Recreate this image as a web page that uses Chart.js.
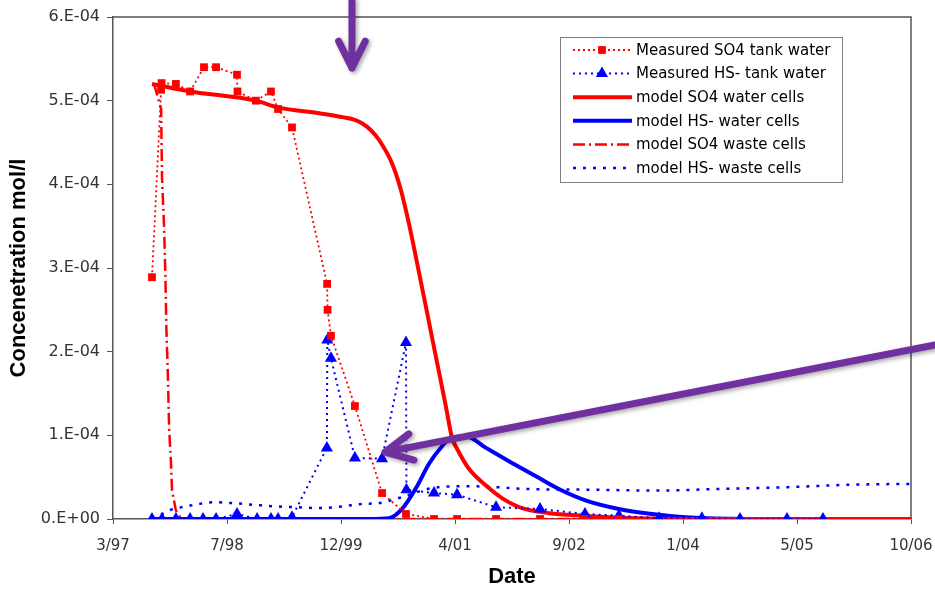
<!DOCTYPE html>
<html>
<head>
<meta charset="utf-8">
<script src="https://cdn.jsdelivr.net/npm/chart.js@4.4.1/dist/chart.umd.min.js"></script>
<style>
  html, body { margin: 0; padding: 0; background: #fff; }
  canvas { display: block; }
</style>
</head>
<body>
<canvas id="concChart" width="935" height="590"></canvas>
<script>
// x = days after 11 Mar 1997 (axis start), y = concentration in 1e-4 mol/l
const xTickLabels = ['3/97', '7/98', '12/99', '4/01', '9/02', '1/04', '5/05', '10/06'];
const yTickLabels = ['0.E+00', '1.E-04', '2.E-04', '3.E-04', '4.E-04', '5.E-04', '6.E-04'];

const so4MeasDays = [171, 211, 213, 276, 338, 399, 452, 544, 546, 627, 693, 724, 785, 939, 941, 956, 1061, 1180, 1285, 1408, 1509, 1680, 1873, 2066, 2219];
const so4MeasVals = [2.89, 5.13, 5.21, 5.2, 5.11, 5.4, 5.4, 5.31, 5.11, 5.0, 5.11, 4.9, 4.68, 2.81, 2.5, 2.19, 1.35, 0.31, 0.06, 0, 0, 0, 0, 0, 0];

const hsMeasDays = [171, 215, 276, 338, 395, 452, 544, 632, 693, 724, 785, 938, 940, 956, 1061, 1180, 1285, 1287, 1408, 1509, 1680, 1873, 2070, 2219, 2395, 2583, 2750, 2956, 3114];
const hsMeasVals = [0, 0, 0, 0, 0, 0, 0.06, 0, 0, 0, 0.02, 0.85, 2.14, 1.92, 0.73, 0.72, 2.11, 0.35, 0.31, 0.29, 0.14, 0.12, 0.06, 0.04, 0.01, 0.01, 0, 0, 0];

const so4WaterDays = [171, 338, 627, 724, 904, 1013, 1060, 1092, 1130, 1167, 1224, 1263, 1298, 1333, 1373, 1417, 1461, 1487, 1509, 1561, 1636, 1706, 1794, 1912, 2057, 2294, 2570, 3500];
const so4WaterVals = [5.2, 5.11, 5.0, 4.92, 4.85, 4.8, 4.77, 4.73, 4.65, 4.53, 4.25, 3.93, 3.53, 3.07, 2.53, 1.93, 1.33, 0.97, 0.84, 0.6, 0.4, 0.25, 0.13, 0.07, 0.04, 0.01, 0, 0];

const hsWaterDays = [171, 1123, 1211, 1268, 1329, 1386, 1443, 1482, 1548, 1636, 1750, 1855, 1969, 2075, 2219, 2364, 2513, 2789, 3500];
const hsWaterVals = [0, 0, 0.01, 0.12, 0.37, 0.66, 0.87, 0.97, 0.99, 0.85, 0.67, 0.51, 0.34, 0.22, 0.12, 0.06, 0.02, 0, 0];

const so4WasteDays = [180, 211, 215, 224, 230, 234, 241, 246, 254, 259, 276, 300, 3500];
const so4WasteVals = [5.2, 4.9, 4.08, 3.49, 2.89, 2.29, 1.69, 1.09, 0.69, 0.34, 0.1, 0, 0];

const hsWasteDays = [171, 202, 254, 320, 377, 443, 522, 618, 715, 807, 904, 1004, 1092, 1167, 1241, 1311, 1355, 1399, 1500, 1600, 1800, 2100, 2390, 2660, 2950, 3240, 3500];
const hsWasteVals = [0, 0.04, 0.11, 0.15, 0.18, 0.2, 0.19, 0.17, 0.15, 0.14, 0.13, 0.15, 0.18, 0.19, 0.24, 0.3, 0.34, 0.37, 0.39, 0.39, 0.36, 0.35, 0.34, 0.36, 0.38, 0.41, 0.42];

// purple callout arrows, in data units [day, value]
const arrowNotes = [
    { from: [1048, 6.2], to: [1048, 5.39] },
    { from: [3605, 2.08], to: [1193, 0.80] }
];

const FONT = '"Liberation Sans", Arial, sans-serif';
const TICK_FONT = '"DejaVu Sans", sans-serif';
const RED = '#ff0000';
const BLUE = '#0000ff';

const pts = (xs, ys) => xs.map((x, i) => ({ x: x, y: ys[i] }));

function drawMarker(ctx, style, r, x, y, color) {
    ctx.save();
    ctx.fillStyle = color;
    ctx.beginPath();
    if (style === 'rect') {
        const s = r * Math.SQRT1_2;
        ctx.rect(x - s, y - s, 2 * s, 2 * s);
    } else {
        ctx.moveTo(x, y - r);
        ctx.lineTo(x + r * 0.87, y + r * 0.5);
        ctx.lineTo(x - r * 0.87, y + r * 0.5);
        ctx.closePath();
    }
    ctx.fill();
    ctx.restore();
}

const frameAndLegend = {
    id: 'frameAndLegend',
    beforeDatasetsDraw(chart) {
        const { ctx, chartArea: a } = chart;
        ctx.save();
        ctx.strokeStyle = '#555';
        ctx.lineWidth = 1.5;
        ctx.beginPath();
        ctx.moveTo(a.left, a.top);
        ctx.lineTo(a.right, a.top);
        ctx.lineTo(a.right, a.bottom);
        ctx.stroke();
        ctx.restore();
    },
    afterDraw(chart) {
        const ctx = chart.ctx;
        const x0 = 560, y0 = 37, w = 282, h = 145;
        ctx.save();
        ctx.fillStyle = '#fff';
        ctx.fillRect(x0, y0, w, h);
        ctx.strokeStyle = '#808080';
        ctx.lineWidth = 1;
        ctx.strokeRect(x0 + 0.5, y0 + 0.5, w, h);
        ctx.font = '15px ' + TICK_FONT;
        ctx.textBaseline = 'middle';
        chart.data.datasets.forEach((ds, i) => {
            const y = y0 + 13 + i * 23.6;
            ctx.setLineDash(ds.borderDash || []);
            ctx.strokeStyle = ds.borderColor;
            ctx.lineWidth = ds.borderWidth;
            ctx.beginPath();
            ctx.moveTo(573, y);
            ctx.lineTo(632, y);
            ctx.stroke();
            ctx.setLineDash([]);
            if (ds.pointRadius > 0) drawMarker(ctx, ds.pointStyle, ds.pointRadius, 602, y, ds.borderColor);
            ctx.fillStyle = '#000';
            ctx.fillText(ds.label, 636, y + 1);
        });

        // callout arrows
        const xs = chart.scales.x, ys = chart.scales.y;
        ctx.strokeStyle = '#7030a0';
        ctx.lineWidth = 7;
        ctx.lineCap = 'round';
        ctx.lineJoin = 'round';
        ctx.shadowColor = 'rgba(0,0,0,0.35)';
        ctx.shadowBlur = 4;
        ctx.shadowOffsetX = 2;
        ctx.shadowOffsetY = 2;
        arrowNotes.forEach(n => {
            const x1 = xs.getPixelForValue(n.from[0]), y1 = ys.getPixelForValue(n.from[1]);
            const x2 = xs.getPixelForValue(n.to[0]), y2 = ys.getPixelForValue(n.to[1]);
            const ang = Math.atan2(y2 - y1, x2 - x1), L = 30, sp = 0.46;
            ctx.beginPath();
            ctx.moveTo(x1, y1);
            ctx.lineTo(x2, y2);
            ctx.moveTo(x2 - L * Math.cos(ang - sp), y2 - L * Math.sin(ang - sp));
            ctx.lineTo(x2, y2);
            ctx.lineTo(x2 - L * Math.cos(ang + sp), y2 - L * Math.sin(ang + sp));
            ctx.stroke();
        });
        ctx.restore();
    }
};

const ctx = document.getElementById('concChart').getContext('2d');
new Chart(ctx, {
    type: 'line',
    data: {
        datasets: [{
            label: 'Measured SO4 tank water',
            data: pts(so4MeasDays, so4MeasVals),
            borderColor: RED,
            backgroundColor: RED,
            borderWidth: 1.8,
            borderDash: [2, 3],
            pointStyle: 'rect',
            pointRadius: 5.5,
            pointBorderWidth: 0,
            tension: 0
        }, {
            label: 'Measured HS- tank water',
            data: pts(hsMeasDays, hsMeasVals),
            borderColor: BLUE,
            backgroundColor: BLUE,
            borderWidth: 2,
            borderDash: [2, 4],
            pointStyle: 'triangle',
            pointRadius: 7,
            pointBorderWidth: 0,
            tension: 0
        }, {
            label: 'model SO4 water cells',
            data: pts(so4WaterDays, so4WaterVals),
            borderColor: RED,
            borderWidth: 4,
            pointRadius: 0,
            cubicInterpolationMode: 'monotone'
        }, {
            label: 'model HS- water cells',
            data: pts(hsWaterDays, hsWaterVals),
            borderColor: BLUE,
            borderWidth: 4,
            pointRadius: 0,
            cubicInterpolationMode: 'monotone'
        }, {
            label: 'model SO4 waste cells',
            data: pts(so4WasteDays, so4WasteVals),
            borderColor: RED,
            borderWidth: 2.5,
            borderDash: [12, 4, 2, 4],
            pointRadius: 0,
            tension: 0
        }, {
            label: 'model HS- waste cells',
            data: pts(hsWasteDays, hsWasteVals),
            borderColor: BLUE,
            borderWidth: 2.5,
            borderDash: [3, 7],
            pointRadius: 0,
            cubicInterpolationMode: 'monotone'
        }]
    },
    options: {
        responsive: false,
        animation: false,
        layout: { padding: { top: 17, right: 24, left: 0, bottom: 0 } },
        plugins: {
            legend: { display: false },
            tooltip: { enabled: false }
        },
        scales: {
            x: {
                type: 'linear',
                min: 0,
                max: 3500,
                afterFit: s => { s.height = 71; s.paddingLeft = 0; s.paddingRight = 0; },
                ticks: {
                    stepSize: 500,
                    autoSkip: false,
                    maxRotation: 0,
                    padding: 13,
                    color: '#333',
                    font: { family: TICK_FONT, size: 15 },
                    callback: v => xTickLabels[Math.round(v / 500)]
                },
                grid: { drawOnChartArea: false, drawTicks: true, tickLength: 5, color: '#555' },
                border: { display: true, color: '#555', width: 1.5 },
                title: {
                    display: true,
                    text: 'Date',
                    color: '#000',
                    font: { family: FONT, size: 22, weight: 'bold' },
                    padding: { top: 0, bottom: 0 }
                }
            },
            y: {
                min: 0,
                max: 6,
                afterFit: s => { s.width = 113; s.paddingTop = 0; s.paddingBottom = 0; },
                ticks: {
                    stepSize: 1,
                    padding: 7,
                    color: '#333',
                    font: { family: TICK_FONT, size: 16 },
                    callback: v => yTickLabels[Math.round(v)]
                },
                grid: { drawOnChartArea: false, drawTicks: true, tickLength: 6, color: '#555' },
                border: { display: true, color: '#555', width: 1.5 },
                title: {
                    display: true,
                    text: 'Concenetration mol/l',
                    color: '#000',
                    font: { family: FONT, size: 22, weight: 'bold' },
                    padding: { top: 6, bottom: 0 }
                }
            }
        }
    },
    plugins: [frameAndLegend]
});
</script>
</body>
</html>
